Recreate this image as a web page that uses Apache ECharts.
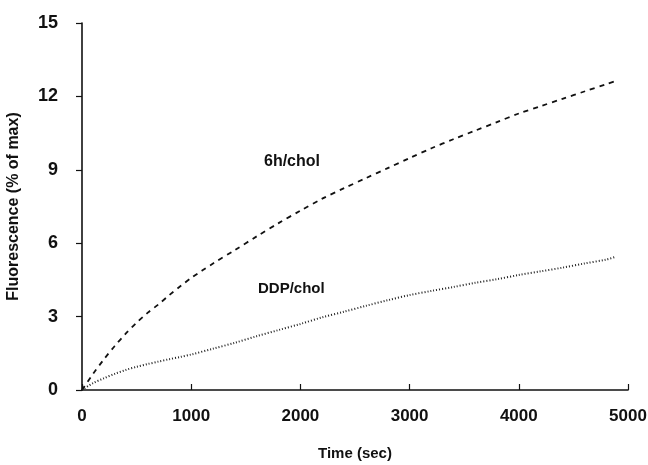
<!DOCTYPE html>
<html>
<head>
<meta charset="utf-8">
<script src="https://cdn.jsdelivr.net/npm/echarts@6/dist/echarts.min.js"></script>
<style>
html, body { margin: 0; padding: 0; background: #fff; }
#fluor { width: 648px; height: 465px; }
</style>
</head>
<body>
<div id="fluor"></div>
<script>
// values (time in sec, fluorescence in % of max)
var timeChol6h = [0, 100, 200, 300, 400, 500, 600, 700, 800, 900, 1000, 1100, 1200, 1400, 1600, 1800, 2000, 2200, 2400, 2600, 2800, 3000, 3200, 3400, 3600, 3800, 4000, 4200, 4400, 4600, 4800, 4870];
var valChol6h = [0, 0.65, 1.25, 1.8, 2.3, 2.75, 3.15, 3.5, 3.88, 4.24, 4.58, 4.88, 5.17, 5.72, 6.28, 6.82, 7.33, 7.82, 8.25, 8.66, 9.07, 9.48, 9.88, 10.25, 10.6, 10.95, 11.3, 11.6, 11.9, 12.2, 12.5, 12.6];

var timeDDP = [0, 100, 200, 300, 400, 500, 600, 700, 800, 900, 1000, 1200, 1400, 1600, 1800, 2000, 2200, 2400, 2600, 2800, 3000, 3200, 3400, 3600, 3800, 4000, 4200, 4400, 4600, 4800, 4890];
var valDDP = [0, 0.28, 0.48, 0.66, 0.82, 0.95, 1.06, 1.16, 1.26, 1.35, 1.45, 1.69, 1.93, 2.2, 2.45, 2.7, 2.97, 3.2, 3.44, 3.67, 3.88, 4.05, 4.21, 4.38, 4.53, 4.7, 4.85, 5.0, 5.17, 5.33, 5.45];

var xTicks = [0, 1000, 2000, 3000, 4000, 5000];
var yTicks = [0, 3, 6, 9, 12, 15];

function pairs(xs, ys) {
    return xs.map(function (x, i) { return [x, ys[i]]; });
}

var myChart = echarts.init(document.getElementById('fluor'));
var fnt = 'Liberation Sans, Arial, Helvetica, sans-serif';

var option = {
    backgroundColor: '#fff',
    animation: false,
    grid: { left: 82, right: 20, top: 23, bottom: 75, outerBoundsMode: 'none', containLabel: false },
    xAxis: {
        type: 'value',
        min: xTicks[0],
        max: xTicks[xTicks.length - 1],
        interval: 1000,
        name: 'Time (sec)',
        nameLocation: 'middle',
        nameGap: 56,
        nameTextStyle: { color: '#111', fontFamily: fnt, fontWeight: 'bold', fontSize: 15 },
        axisLine: { lineStyle: { color: '#111', width: 1.6 } },
        axisTick: { inside: true, length: 6, lineStyle: { color: '#111', width: 1.2 } },
        axisLabel: {
            color: '#111', fontFamily: fnt, fontWeight: 'bold', fontSize: 17, margin: 18,
            formatter: function (v) { return String(v); }
        },
        splitLine: { show: false }
    },
    yAxis: {
        type: 'value',
        min: yTicks[0],
        max: yTicks[yTicks.length - 1],
        interval: 3,
        name: 'Fluorescence (% of max)',
        nameLocation: 'middle',
        nameGap: 60,
        nameTextStyle: { color: '#111', fontFamily: fnt, fontWeight: 'bold', fontSize: 16 },
        axisLine: { show: true, lineStyle: { color: '#111', width: 1.6 } },
        axisTick: { show: true, length: 6, lineStyle: { color: '#111', width: 1.2 } },
        axisLabel: { color: '#111', fontFamily: fnt, fontWeight: 'bold', fontSize: 18, margin: 24 },
        splitLine: { show: false }
    },
    graphic: [
        { type: 'text', left: 264, top: 154, style: { text: '6h/chol', fill: '#111', font: 'bold 16px ' + fnt } },
        { type: 'text', left: 258, top: 281, style: { text: 'DDP/chol', fill: '#111', font: 'bold 15px ' + fnt } }
    ],
    series: [
        {
            name: '6h/chol',
            type: 'line',
            data: pairs(timeChol6h, valChol6h),
            smooth: 0.3,
            symbol: 'none',
            lineStyle: { color: '#111', width: 1.8, type: [5, 5] }
        },
        {
            name: 'DDP/chol',
            type: 'line',
            data: pairs(timeDDP, valDDP),
            smooth: 0.3,
            symbol: 'none',
            lineStyle: { color: '#222', width: 2, type: [1, 2] }
        }
    ]
};

myChart.setOption(option);
window.addEventListener("resize", function () {
    myChart.resize();
});
</script>
</body>
</html>
